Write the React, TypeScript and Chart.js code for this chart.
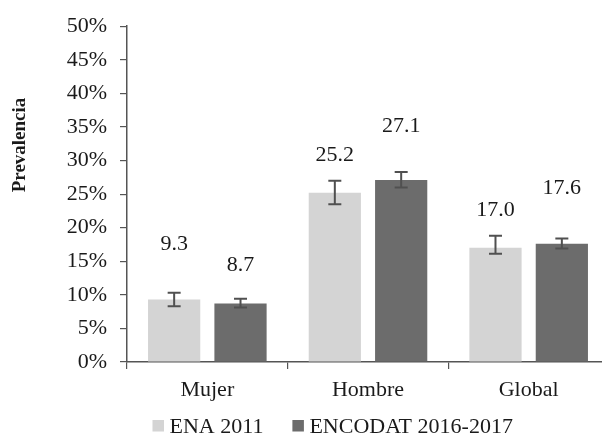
import React, { useEffect, useRef } from "react";
import { Chart, registerables } from "chart.js";

Chart.register(...registerables);

const categories = ["Mujer", "Hombre", "Global"];
const seriesNames = ["ENA 2011", "ENCODAT 2016-2017"];
const enaValues = [9.3, 25.2, 17.0];
const encodatValues = [8.7, 27.1, 17.6];
const enaLow = [8.3, 23.5, 16.1];
const enaHigh = [10.3, 27.0, 18.8];
const encodatLow = [8.1, 26.0, 16.9];
const encodatHigh = [9.4, 28.3, 18.4];
const yTickValues = [0, 5, 10, 15, 20, 25, 30, 35, 40, 45, 50];

const FONT = "'Liberation Serif', 'Times New Roman', serif";
const TEXT = "#1a1a1a";
const AXIS = "#555555";
const COLORS = ["#d4d4d4", "#6c6c6c"];

// label lift above bar top (px), per dataset / category (style only)
const labelLift = [
  [57, 39, 39],
  [40, 55, 57],
];

export default function App() {
  const ref = useRef<HTMLCanvasElement | null>(null);

  useEffect(() => {
    if (!ref.current) return;
    const errs = [
      [enaLow, enaHigh],
      [encodatLow, encodatHigh],
    ];

    const errorBars = {
      id: "errorBars",
      afterDatasetsDraw(chart: any) {
        const ctx = chart.ctx;
        const y = chart.scales.y;
        ctx.save();
        ctx.strokeStyle = "#505050";
        ctx.lineWidth = 2;
        chart.data.datasets.forEach((ds: any, di: number) => {
          const meta = chart.getDatasetMeta(di);
          meta.data.forEach((el: any, i: number) => {
            const lo = y.getPixelForValue(errs[di][0][i]);
            const hi = y.getPixelForValue(errs[di][1][i]);
            const x = el.x;
            const cw = 6.5;
            ctx.beginPath();
            ctx.moveTo(x, lo);
            ctx.lineTo(x, hi);
            ctx.moveTo(x - cw, lo);
            ctx.lineTo(x + cw, lo);
            ctx.moveTo(x - cw, hi);
            ctx.lineTo(x + cw, hi);
            ctx.stroke();
          });
          // value labels
          ctx.fillStyle = TEXT;
          ctx.font = `22px ${FONT}`;
          ctx.textAlign = "center";
          ctx.textBaseline = "alphabetic";
          meta.data.forEach((el: any, i: number) => {
            const v = ds.data[i];
            ctx.fillText(v.toFixed(1), el.x, el.y - labelLift[di][i] + 7.5);
          });
        });
        ctx.restore();
      },
    };

    const extras = {
      id: "extras",
      afterDraw(chart: any) {
        const ctx = chart.ctx;
        ctx.save();
        // axis title
        ctx.translate(20, 145);
        ctx.rotate(-Math.PI / 2);
        ctx.fillStyle = TEXT;
        ctx.font = `bold 19px ${FONT}`;
        ctx.textAlign = "center";
        ctx.textBaseline = "middle";
        ctx.fillText("Prevalencia", 0, 0);
        ctx.restore();

        // legend
        ctx.save();
        ctx.font = `22px ${FONT}`;
        ctx.textBaseline = "alphabetic";
        ctx.textAlign = "left";
        let x = 152.5;
        const yc = 426;
        chart.data.datasets.forEach((ds: any) => {
          ctx.fillStyle = ds.backgroundColor;
          ctx.fillRect(x, yc - 6, 11.5, 11.5);
          x += 11.5 + 5.5;
          ctx.fillStyle = TEXT;
          ctx.fillText(ds.label, x, yc + 7);
          x += ctx.measureText(ds.label).width + 29;
        });
        ctx.restore();
      },
    };

    const chart = new Chart(ref.current, {
      type: "bar",
      data: {
        labels: categories,
        datasets: [
          {
            label: seriesNames[0],
            data: enaValues,
            backgroundColor: COLORS[0],
            categoryPercentage: 0.826,
            barPercentage: 0.787,
          },
          {
            label: seriesNames[1],
            data: encodatValues,
            backgroundColor: COLORS[1],
            categoryPercentage: 0.826,
            barPercentage: 0.787,
          },
        ],
      },
      options: {
        responsive: false,
        animation: false,
        events: [],
        layout: { padding: { top: 18, right: 0, bottom: 0, left: 0 } },
        plugins: {
          legend: { display: false },
          tooltip: { enabled: false },
        },
        scales: {
          x: {
            grid: {
              offset: true,
              drawOnChartArea: false,
              drawTicks: true,
              tickLength: 7,
              color: AXIS,
              lineWidth: 1.2,
            },
            border: { display: true, color: AXIS, width: 1.5 },
            ticks: {
              color: TEXT,
              font: { family: FONT, size: 22 },
              padding: 8,
            },
            afterFit(scale: any) {
              scale.height = 73;
            },
          },
          y: {
            min: 0,
            max: 50,
            afterBuildTicks(scale: any) {
              scale.ticks = yTickValues.map((v) => ({ value: v }));
            },
            grid: {
              drawOnChartArea: false,
              drawTicks: true,
              tickLength: 7,
              color: AXIS,
              lineWidth: 1.2,
            },
            border: { display: true, color: AXIS, width: 1.5 },
            ticks: {
              color: TEXT,
              font: { family: FONT, size: 22 },
              padding: 13,
              callback: (v: any) => `${v}%`,
            },
            afterFit(scale: any) {
              scale.width = 127;
            },
          },
        },
      },
      plugins: [errorBars, extras],
    });
    return () => chart.destroy();
  }, []);

  return (
    <div
      style={{
        position: "fixed",
        left: 0,
        top: 0,
        width: 602,
        height: 435,
        overflow: "hidden",
        background: "#ffffff",
      }}
    >
      <canvas ref={ref} width={609} height={435} style={{ display: "block", width: 609, height: 435 }} />
    </div>
  );
}
